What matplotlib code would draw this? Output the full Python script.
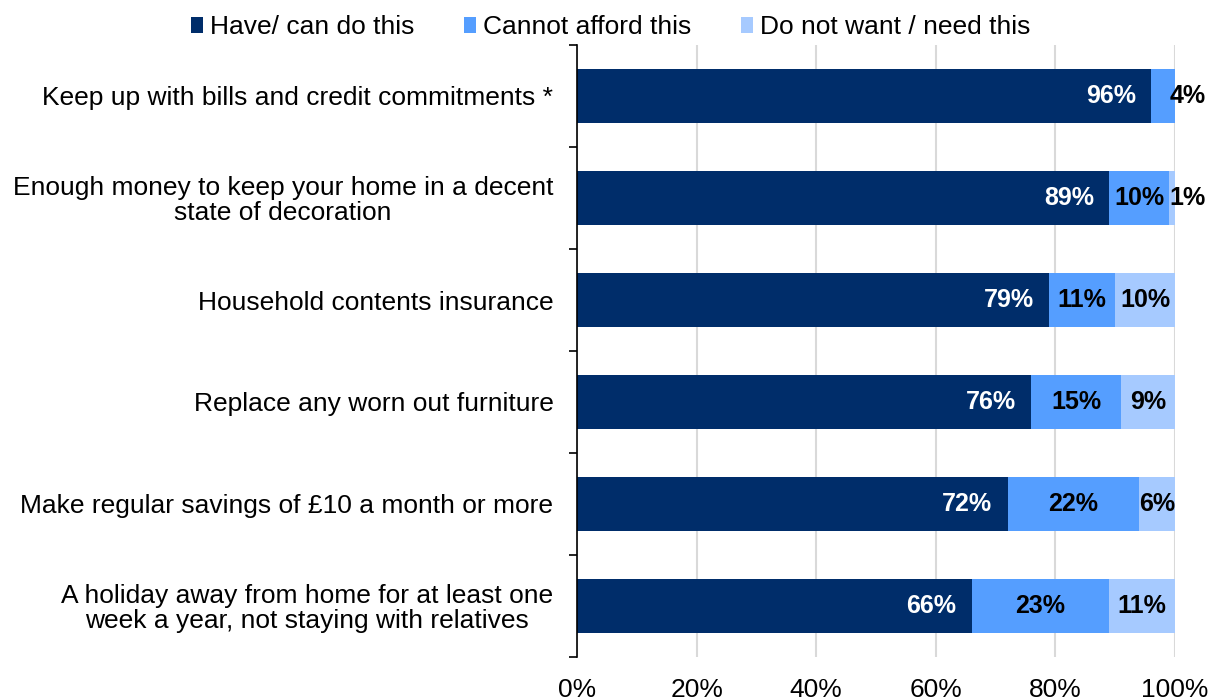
import matplotlib
matplotlib.use("Agg")
import matplotlib.pyplot as plt
import numpy as np

plt.rcParams['font.family'] = ['Liberation Sans', 'DejaVu Sans']

categories = [
    "Keep up with bills and credit commitments *",
    "Enough money to keep your home in a decent\nstate of decoration",
    "Household contents insurance",
    "Replace any worn out furniture",
    "Make regular savings of £10 a month or more",
    "A holiday away from home for at least one\nweek a year, not staying with relatives",
]
series_names = ["Have/ can do this", "Cannot afford this", "Do not want / need this"]
have = [96, 89, 79, 76, 72, 66]
cannot = [4, 10, 11, 15, 22, 23]
not_want = [0, 1, 10, 9, 6, 11]
xticks = [0, 20, 40, 60, 80, 100]

colors = ["#002D6A", "#559EFF", "#A6CAFF"]
text_colors = ["white", "black", "black"]
FS = 19
LFS = 18

fig = plt.figure(figsize=(12.14, 7.0), dpi=100)
ax = fig.add_axes([577 / 1214, 1 - 657 / 700, (1175 - 577) / 1214, (657 - 45) / 700])

y = np.arange(len(categories))
series = [have, cannot, not_want]
left = np.zeros(len(categories))
for vals, col, tcol, name in zip(series, colors, text_colors, series_names):
    vals = np.array(vals, dtype=float)
    ax.barh(y, vals, left=left, height=0.52, color=col, label=name, zorder=3)
    for yi, (l, v) in enumerate(zip(left, vals)):
        if v <= 0:
            continue
        label = f"{v:.0f}%"
        if tcol == "white":
            ax.annotate(label, (l + v, yi), xytext=(-11, 0), textcoords="offset points",
                        ha="right", va="center", color=tcol, fontsize=LFS,
                        fontweight="bold", zorder=4)
        elif v < 5:
            ax.annotate(label, (100, yi), xytext=(9, 0), textcoords="offset points",
                        ha="center", va="center", color=tcol, fontsize=LFS,
                        fontweight="bold", zorder=4)
        else:
            ax.text(l + v / 2, yi, label, ha="center", va="center", color=tcol,
                    fontsize=LFS, fontweight="bold", zorder=4)
    left = left + vals

ax.set_xlim(0, 100)
ax.set_ylim(len(categories) - 0.5, -0.5)
ax.set_xticks(xticks)
ax.set_xticklabels([f"{t}%" for t in xticks], fontsize=FS)
ax.tick_params(axis="x", length=0, pad=15)
ax.set_yticks(y)
ax.set_yticklabels(categories, fontsize=FS, multialignment="center", linespacing=1.05)
ax.tick_params(axis="y", which="major", length=0, pad=17)
ax.set_yticks(np.arange(-0.5, len(categories), 1.0), minor=True)
ax.tick_params(axis="y", which="minor", length=6, width=1.2, direction="out", color="black")

ax.grid(axis="x", color="#D9D9D9", linewidth=1.5, zorder=0)
for side in ["top", "right", "bottom"]:
    ax.spines[side].set_visible(False)
ax.spines["left"].set_color("black")
ax.spines["left"].set_linewidth(1.2)
ax.spines["left"].set_zorder(5)

fig.legend(loc="upper center", bbox_to_anchor=(0.503, 1.012), ncol=3, frameon=False,
           fontsize=FS, handlelength=0.45, handleheight=0.55, handletextpad=0.25,
           columnspacing=1.9)

fig.savefig("out.png", dpi=100)
